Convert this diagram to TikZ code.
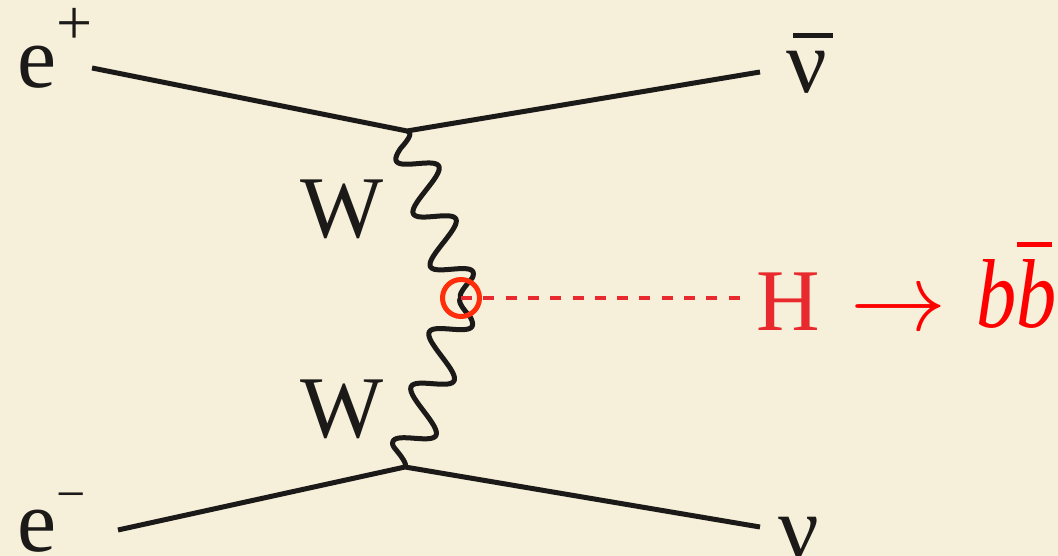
\documentclass[tikz,border=0pt]{standalone}
\usepackage{fontspec}
\setmainfont{Liberation Serif}
\usetikzlibrary{decorations}
\definecolor{bg}{RGB}{246,239,217}
\definecolor{ink}{RGB}{28,26,24}
\definecolor{hred}{RGB}{232,42,46}
\definecolor{bred}{RGB}{255,0,0}
\definecolor{circ}{RGB}{255,45,10}
% sheared sine wave (photon-like line as in the reference)
\def\swAmp{19.5}
\pgfdeclaredecoration{shearwave}{step}{
  \state{step}[width=+1.5pt, switch if less than=+1.5pt to final]{
    \pgfmathsetmacro\swD{\pgfdecoratedcompleteddistance}
    \pgfmathsetmacro\swR{\pgfdecoratedremainingdistance}
    \pgfmathsetmacro\swPh{((\swD-\swOfs)/\swPer)*360}
    \pgfmathsetmacro\swEnv{min(1,\swD/12,\swR/12)}
    \pgfmathsetmacro\swL{\swSgn*\swAmp*cos(\swPh)*\swEnv}
    \pgfmathsetmacro\swX{\swShr*\swL}
    \pgfpathlineto{\pgfpoint{\swX pt}{\swL pt}}
  }
  \state{final}{\pgfpathlineto{\pgfpointdecoratedpathlast}}
}
\begin{document}
\begin{tikzpicture}[x=1pt,y=-1pt,
  lbl/.style={inner sep=0pt, anchor=base west, text=ink, font=\fontsize{88}{90}\selectfont},
  fermion/.style={draw=ink, line width=5pt},
  wave/.style={draw=ink, line width=5pt, line join=round, decorate, decoration=shearwave},
  upwave/.style={wave, /utils/exec={\def\swSgn{-1}\def\swOfs{20.4}\def\swPer{55.5}\def\swShr{-0.22}}},
  lowwave/.style={wave, /utils/exec={\def\swSgn{1}\def\swOfs{18.4}\def\swPer{57.5}\def\swShr{0.22}}},
  hline/.style={draw=hred, line width=4pt, dash pattern=on 11pt off 11.3pt},
  vtx/.style={circle, draw=circ, line width=5pt, minimum size=37pt, inner sep=0pt}]
\fill[bg] (0,0) rectangle (1058,556);
\useasboundingbox (0,0) rectangle (1058,556);
% labels
\node[lbl] (ep) at (17,88) {e\raisebox{43pt}{\fontsize{64}{64}\selectfont +}};
\node[lbl] (em) at (17,551) {e\raisebox{40pt}{\fontsize{52}{52}\selectfont −}};
\node[lbl, font=\fontsize{90}{92}\selectfont] (nb) at (786,93) {\rlap{\hspace{7pt}\rule[55pt]{40pt}{5pt}}ν};
\node[lbl, font=\fontsize{90}{92}\selectfont] (nu) at (778,558) {ν};
\node[lbl] (W1) at (300,238) {W};
\node[lbl] (W2) at (300,437) {W};
\node[lbl, text=hred] (H) at (756,330) {H};
\node[lbl, text=bred, font=\fontsize{10}{12}\selectfont] (arr) at (850,330) {\scalebox{9.6}{$\rightarrow$}};
\node[lbl, text=bred] (bb) at (976,327) {\scalebox{0.82}[1]{\fontsize{98}{98}\selectfont\itshape bb}\llap{\rule[80pt]{35pt}{5pt}\hspace{4.4pt}}};
% points
\coordinate (a1) at (92,68);
\coordinate (V1) at (407,131);
\coordinate (a2) at (760,72);
\coordinate (b1) at (118,530);
\coordinate (V2) at (405,467);
\coordinate (b2) at (760,527);
\coordinate (c) at (461,298);
\coordinate (hend) at (742,298);
% lines
\draw[fermion] (a1) -- (V1) -- (a2);
\draw[fermion] (b1) -- (V2) -- (b2);
\draw[upwave] (V1) -- (c);
\draw[lowwave] (c) -- (V2);
\node[vtx] (C) at (c) {};
\draw[hline] (C.center) -- (hend);
\end{tikzpicture}
\end{document}
